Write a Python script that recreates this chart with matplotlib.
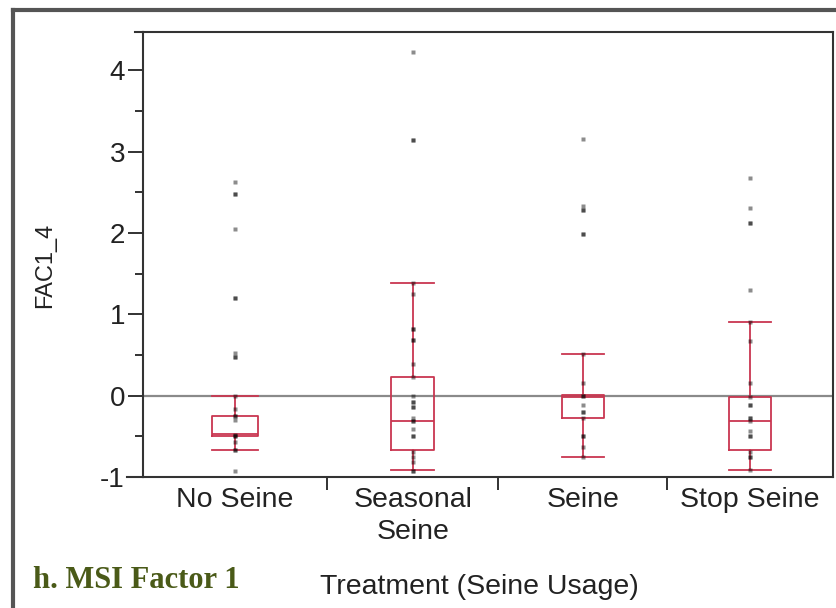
import matplotlib.pyplot as plt
from matplotlib.lines import Line2D

# treatment groups
groups = ["No Seine", "Seasonal\nSeine", "Seine", "Stop Seine"]

# FAC1_4 scores per treatment (repeated values stack up darker)
no_seine = [2.63, 2.48, 2.48, 2.05, 1.20, 1.20, 0.53, 0.48, 0.48, 0.00,
            -0.16, -0.25, -0.25, -0.30, -0.48, -0.50, -0.50, -0.57,
            -0.67, -0.67, -0.93]
seasonal = [4.23, 3.14, 3.14, 1.39, 1.25, 0.82, 0.82, 0.69, 0.69, 0.39,
            0.23, -0.01, -0.08, -0.08, -0.14, -0.14, -0.28, -0.31, -0.31,
            -0.41, -0.49, -0.49, -0.69, -0.75, -0.81, -0.93, -0.93]
seine = [3.16, 2.33, 2.28, 2.28, 1.99, 1.99, 0.51, 0.15, 0.00, 0.00,
         -0.12, -0.20, -0.20, -0.27, -0.50, -0.50, -0.63, -0.75]
stop_seine = [2.67, 2.31, 2.12, 2.12, 1.30, 0.90, 0.67, 0.15, -0.02,
              -0.11, -0.11, -0.28, -0.28, -0.31, -0.44, -0.49, -0.49,
              -0.69, -0.75, -0.75, -0.92]

# quantile boxes
whisker_lo = [-0.67, -0.92, -0.75, -0.92]
q1 = [-0.49, -0.67, -0.27, -0.67]
median = [-0.47, -0.31, -0.02, -0.31]
q3 = [-0.25, 0.23, 0.01, -0.02]
whisker_hi = [0.00, 1.39, 0.51, 0.90]

values = [no_seine, seasonal, seine, stop_seine]

RED = "#c93650"
INK = "#222"

plt.rcParams["font.family"] = "Liberation Sans"
plt.rcParams["axes.unicode_minus"] = False

fig = plt.figure(figsize=(8.37, 6.08), dpi=100)
ax = fig.add_axes([143 / 837, 1 - 477 / 608, 690 / 837, 445 / 608])

# column widths follow group size, as in the JMP oneway plot
span = [1.09, 1.01, 1.00, 0.98]
edges = [0.0]
for s in span:
    edges.append(edges[-1] + s)
centers = [(a + b) / 2 for a, b in zip(edges[:-1], edges[1:])]

stats = []
for i in range(len(groups)):
    stats.append(dict(whislo=whisker_lo[i], q1=q1[i], med=median[i],
                      q3=q3[i], whishi=whisker_hi[i], fliers=[]))

ax.axhline(0, color="#8a8a8a", lw=1.6, zorder=1)

ax.bxp(stats, positions=centers, widths=[0.25 * s for s in span],
       showfliers=False, manage_ticks=False,
       boxprops=dict(color=RED, lw=1.3),
       medianprops=dict(color=RED, lw=1.3),
       whiskerprops=dict(color=RED, lw=1.3),
       capprops=dict(color=RED, lw=1.3),
       capwidths=[0.25 * s for s in span])

for c, v in zip(centers, values):
    ax.plot([c] * len(v), v, ls="none", marker="s", ms=2.9,
            mfc="black", mec="none", alpha=0.45, zorder=4)

ax.set_xlim(edges[0], edges[-1])
ax.set_ylim(-1.0, 4.47)

ax.set_yticks([-1, 0, 1, 2, 3, 4])
ax.set_yticks([-0.5, 0.5, 1.5, 2.5, 3.5], minor=True)
ax.tick_params(axis="y", which="major", length=11, width=1.3,
               labelsize=20, pad=2, colors=INK)
ax.tick_params(axis="y", which="minor", length=6, width=1.3, colors=INK)

ax.set_xticks(centers)
ax.set_xticklabels(groups, fontsize=20.5, color=INK, linespacing=1.3)
ax.set_xticks(edges[1:-1], minor=True)
ax.tick_params(axis="x", which="major", length=0, pad=7)
ax.tick_params(axis="x", which="minor", length=9, width=1.3, colors=INK)

for side in ["left", "bottom", "right", "top"]:
    ax.spines[side].set_linewidth(1.5)
    ax.spines[side].set_color("#333")

# top and bottom frame lines run a little past the y axis
ax.add_line(Line2D([-0.012, 0], [1, 1], transform=ax.transAxes,
                   color="#333", lw=1.5, clip_on=False))
ax.add_line(Line2D([-0.023, 0], [0, 0], transform=ax.transAxes,
                   color="#333", lw=1.5, clip_on=False))

ax.set_ylabel("FAC1_4", fontsize=17, color=INK)
ax.yaxis.set_label_coords(-0.126, 0.476)
ax.set_xlabel("Treatment (Seine Usage)", fontsize=20.5, color=INK)
ax.xaxis.set_label_coords(0.487, -0.218)

fig.text(33 / 837, 1 - 581 / 608, "h. MSI Factor 1", fontsize=22,
         fontweight="bold", family="Liberation Serif", color="#4a5a18",
         ha="left", va="center")

# outer panel border
fig.add_artist(Line2D([13 / 837, 13 / 837], [0, 1 - 10 / 608],
                      transform=fig.transFigure, color="#555", lw=3))
fig.add_artist(Line2D([13 / 837, 1], [1 - 10 / 608, 1 - 10 / 608],
                      transform=fig.transFigure, color="#555", lw=3))

fig.savefig("out.png", dpi=100)
